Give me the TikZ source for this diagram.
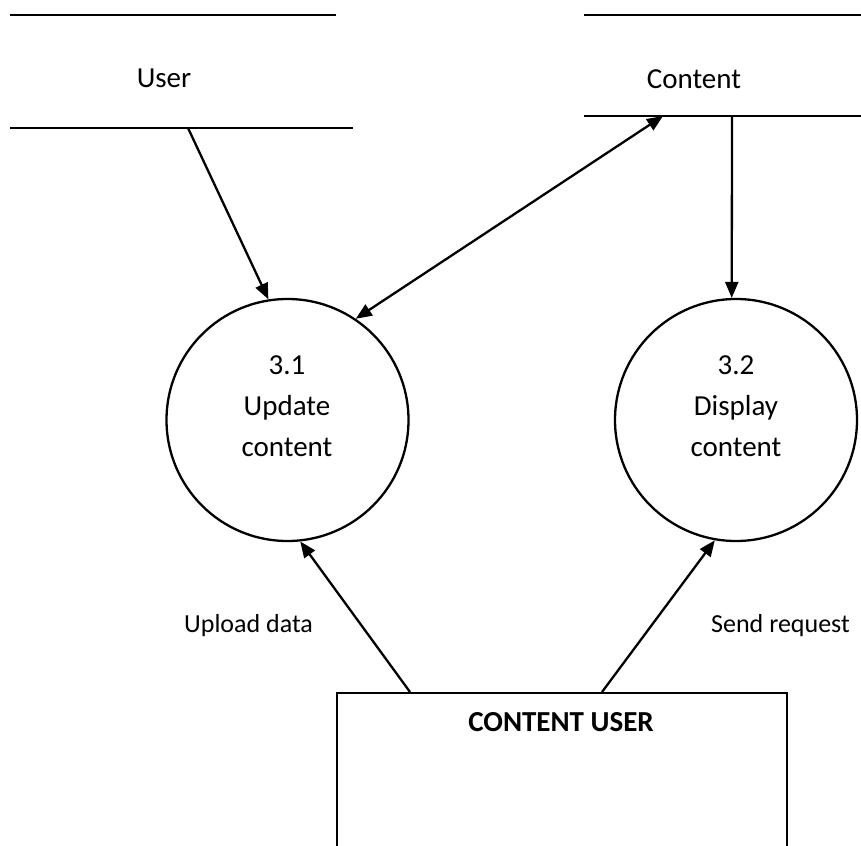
\documentclass[tikz,border=0pt]{standalone}
\usepackage{fontspec}
\setmainfont{Carlito}
\usetikzlibrary{arrows.meta}

\tikzset{
  line/.style={line width=2.3pt, draw=black},
  tip/.tip={Triangle[length=16pt,width=13pt]},
  flow/.style={line, -tip},
  biflow/.style={line, tip-tip},
  proc/.style={circle, line, minimum size=242pt, inner sep=0pt},
  proctext/.style={align=center, inner sep=0pt, font=\fontsize{29}{41}\selectfont},
  storetext/.style={inner sep=0pt, anchor=base, font=\fontsize{29}{35}\selectfont},
  flowtext/.style={inner sep=0pt, anchor=base west, font=\fontsize{26}{32}\selectfont},
  entity/.style={rectangle, line, minimum width=450pt, minimum height=260pt, inner sep=0pt, anchor=north west},
  entitytext/.style={inner sep=0pt, anchor=base, font=\fontsize{29}{35}\selectfont\bfseries}
}

\begin{document}
\begin{tikzpicture}[x=1pt, y=-1pt]
  \clip (0,0) rectangle (861,845);

  % data store: User
  \draw[line] (10,15) -- (336,15);
  \draw[line] (10,128) -- (353,128);
  \node[storetext] (user) at (164,88) {User};
  \coordinate (userout) at (188,128);

  % data store: Content
  \draw[line] (584,15) -- (861,15);
  \draw[line] (584,116) -- (861,116);
  \node[storetext] (content) at (694,89) {Content};
  \coordinate (contentio) at (663,116);
  \coordinate (contentout) at (732,116);

  % processes
  \node[proc] (c31) at (287.5,420) {};
  \node[proctext] (t31) at (287,406) {3.1\\Update\\content};
  \node[proc] (c32) at (736,420) {};
  \node[proctext] (t32) at (736,406) {3.2\\Display\\content};

  % external entity, open towards the bottom edge
  \node[entity] (cu) at (336,692) {};
  \node[entitytext] (cut) at (561,731) {CONTENT USER};

  % flows
  \draw[flow] (userout) -- (c31.99);
  \draw[biflow] (c31.56) -- (contentio);
  \draw[flow] (contentout) -- (c32.92);
  \draw[flow] ([xshift=74pt]cu.north west) -- (c31.-84);
  \draw[flow] ([xshift=266pt]cu.north west) -- (c32.260);

  % flow labels
  \node[flowtext] (lupload) at (184,632) {Upload data};
  \node[flowtext] (lsend) at (711,632) {Send request};
\end{tikzpicture}
\end{document}
